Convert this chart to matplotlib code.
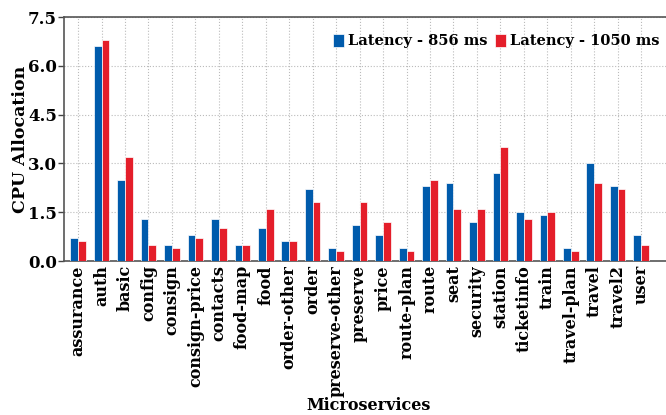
import numpy as np
import matplotlib
matplotlib.use('Agg')
matplotlib.rcParams['font.family'] = 'DejaVu Serif'
matplotlib.rcParams['font.weight'] = 'bold'
import matplotlib.pyplot as plt

services = ['assurance', 'auth', 'basic', 'config', 'consign', 'consign-price',
            'contacts', 'food-map', 'food', 'order-other', 'order',
            'preserve-other', 'preserve', 'price', 'route-plan', 'route', 'seat',
            'security', 'station', 'ticketinfo', 'train', 'travel-plan',
            'travel', 'travel2', 'user']
lat_856 = [0.7, 6.6, 2.5, 1.3, 0.5, 0.8, 1.3, 0.5, 1.0, 0.6, 2.2, 0.4, 1.1,
           0.8, 0.4, 2.3, 2.4, 1.2, 2.7, 1.5, 1.4, 0.4, 3.0, 2.3, 0.8]
lat_1050 = [0.6, 6.8, 3.2, 0.5, 0.4, 0.7, 1.0, 0.5, 1.6, 0.6, 1.8, 0.3, 1.8,
            1.2, 0.3, 2.5, 1.6, 1.6, 3.5, 1.3, 1.5, 0.3, 2.4, 2.2, 0.5]
series_labels = ['Latency - 856 ms', 'Latency - 1050 ms']

BLUE = '#005BAC'
RED = '#E41E2A'

fig = plt.figure(figsize=(6.66, 4.15), dpi=100)
ax = fig.add_axes([64 / 666, 154 / 415, 610 / 666, 244 / 415])

x = np.arange(len(services))
w = 0.33
ax.bar(x - w / 2, lat_856, w, color=BLUE, edgecolor='white', linewidth=0.5,
       label=series_labels[0], zorder=3)
ax.bar(x + w / 2, lat_1050, w, color=RED, edgecolor='white', linewidth=0.5,
       label=series_labels[1], zorder=3)

ax.set_xlim(-0.6, 25.4)
ax.set_ylim(0, 7.5)
yt = [0, 1.5, 3.0, 4.5, 6.0, 7.5]
ax.set_yticks(yt)
ax.set_yticklabels([f'{v:.1f}' for v in yt])
ax.set_xticks(x)
ax.set_xticklabels(services, rotation=90)
ax.tick_params(axis='x', length=0, pad=3, labelsize=11.5)
ax.tick_params(axis='y', length=4, width=1, labelsize=12, pad=1, color='#444444')

ax.grid(True, linestyle=':', color='#BBBBBB', linewidth=0.8, zorder=0)
ax.set_axisbelow(True)
for s in ['left', 'top', 'bottom']:
    ax.spines[s].set_color('#555555')
    ax.spines[s].set_linewidth(1.2)
ax.spines['right'].set_visible(False)

ax.set_ylabel('CPU Allocation', fontsize=12.5, fontweight='bold', labelpad=-1)
ax.set_xlabel('Microservices', fontsize=11.5, fontweight='bold', labelpad=0)

ax.legend(loc='upper right', bbox_to_anchor=(0.998, 0.985), ncol=2, frameon=False,
          fontsize=10.5, handlelength=0.75, handleheight=1.0, handletextpad=0.3,
          columnspacing=0.5, borderaxespad=0.5)

fig.savefig('out.png', dpi=100, facecolor='white')
